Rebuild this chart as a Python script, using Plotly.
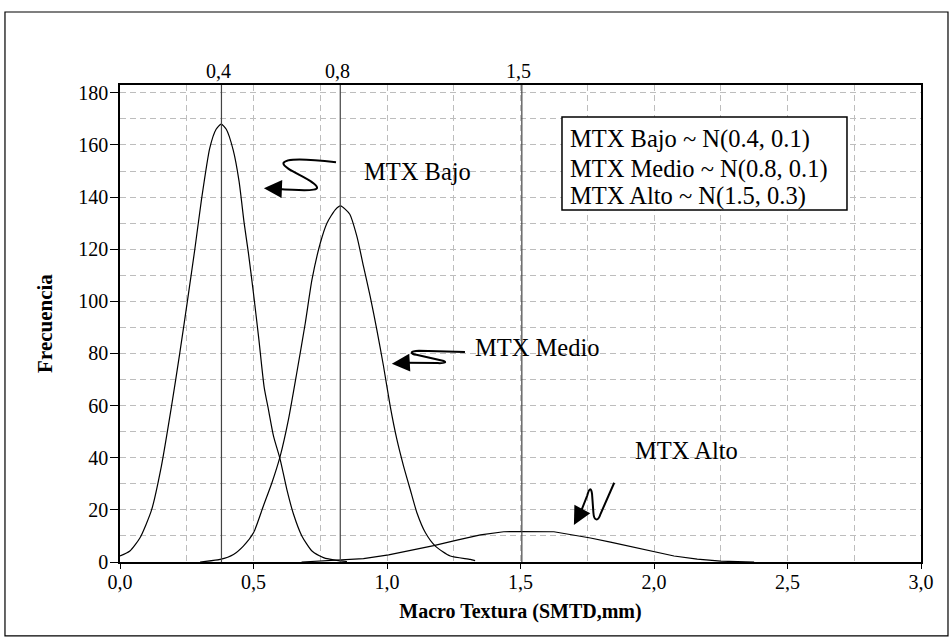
import plotly.graph_objects as go

# ---- data ----
bajo_x = [0.0, 0.037, 0.075, 0.118, 0.155, 0.193, 0.224, 0.255, 0.28, 0.305, 0.336, 0.36, 0.379,
          0.398, 0.424, 0.446, 0.465, 0.481, 0.5, 0.52, 0.54, 0.556, 0.575, 0.6, 0.625, 0.65,
          0.681, 0.719, 0.762, 0.812, 0.85]
bajo_y = [2.3, 4.2, 9.3, 19.9, 36.8, 59.8, 80.2, 101.9, 119.8, 138.9, 158.7, 166.0, 168.0,
          166.0, 158.0, 146.0, 130.0, 118.5, 103.0, 85.5, 67.0, 58.5, 48.3, 39.3, 27.8, 18.3,
          10.0, 4.2, 1.7, 0.6, 0.2]

medio_x = [0.30, 0.375, 0.425, 0.462, 0.5, 0.537, 0.569, 0.6, 0.631, 0.662, 0.694, 0.719, 0.75,
           0.775, 0.806, 0.826, 0.86, 0.887, 0.912, 0.937, 0.962, 0.987, 1.012, 1.037, 1.062,
           1.087, 1.112, 1.144, 1.181, 1.237, 1.312, 1.33]
medio_y = [0.0, 1.0, 2.9, 6.1, 11.2, 21.5, 30.4, 40.6, 54.7, 72.5, 91.7, 108.3, 122.3, 130.0,
           135.1, 136.6, 133.5, 125.0, 113.4, 101.9, 89.1, 75.1, 59.8, 47.0, 36.8, 27.8, 18.9,
           11.2, 6.1, 2.3, 1.0, 0.5]

alto_x = [0.68, 0.82, 0.912, 1.006, 1.087, 1.175, 1.262, 1.35, 1.437, 1.5, 1.625, 1.675, 1.762,
          1.837, 1.925, 2.0, 2.075, 2.162, 2.25, 2.375]
alto_y = [0.0, 0.8, 1.3, 2.7, 4.4, 6.3, 8.4, 10.4, 11.6, 11.7, 11.6, 10.8, 9.2, 7.6, 5.7, 4.0,
          2.3, 1.1, 0.3, 0.0]

peak_lines_x = [0.38, 0.825, 1.505]
peak_labels = ["0,4", "0,8", "1,5"]

legend_lines = ["MTX Bajo ~ N(0.4, 0.1)", "MTX Medio ~ N(0.8, 0.1)", "MTX Alto ~ N(1.5, 0.3)"]
legend_line_y = [0.8868, 0.8245, 0.7673]
curve_labels = ["MTX Bajo", "MTX Medio", "MTX Alto"]
curve_label_pos = [(1.114, 149.7), (1.564, 82.3), (2.122, 42.9)]

FONT = "Liberation Serif, Times New Roman, serif"

fig = go.Figure()
for xs, ys, shp in [(bajo_x, bajo_y, "spline"), (medio_x, medio_y, "spline"), (alto_x, alto_y, "linear")]:
    fig.add_trace(go.Scatter(x=xs, y=ys, mode="lines",
                             line=dict(color="black", width=1.2, shape=shp, smoothing=0.6),
                             showlegend=False, hoverinfo="skip"))

shapes = []
for xv in peak_lines_x:
    shapes.append(dict(type="line", xref="x", yref="paper", x0=xv, x1=xv, y0=0, y1=1,
                       line=dict(color="#444444", width=1.2), layer="above"))

# curly arrow strokes (decorations)
arrow_paths = [
    "M 0.809,153.4 C 0.70,154.6 0.62,155.0 0.612,153.0 C 0.61,150.5 0.735,146.5 0.738,143.6 C 0.739,142.2 0.66,142.6 0.585,143.2",
    "M 1.292,80.6 L 1.12,81.0 C 1.085,80.9 1.085,79.9 1.11,79.5 L 1.205,77.3 C 1.228,76.7 1.218,76.2 1.19,76.3 L 1.065,76.4",
    "M 1.851,30.4 L 1.80,18.5 C 1.79,15.3 1.775,15.8 1.773,19.0 L 1.768,26.0 C 1.765,28.8 1.757,28.3 1.75,25.5 L 1.727,19.5",
]
for p in arrow_paths:
    shapes.append(dict(type="path", xref="x", yref="y", path=p,
                       line=dict(color="black", width=2)))

# outer frame
shapes.append(dict(type="rect", xref="paper", yref="paper", x0=-0.1436, x1=1.0337, y0=-0.155, y1=1.153,
                   line=dict(color="black", width=1.2), fillcolor="rgba(0,0,0,0)"))
# legend box
shapes.append(dict(type="rect", xref="paper", yref="paper", x0=0.5518, x1=0.9076, y0=0.7379, y1=0.9329,
                   line=dict(color="black", width=1.5), fillcolor="white", layer="above"))

annotations = []
for xv, lab in zip(peak_lines_x, peak_labels):
    annotations.append(dict(x=xv, y=1, xref="x", yref="paper", yanchor="bottom", text=lab,
                            showarrow=False, yshift=1, xshift=-3,
                            font=dict(family=FONT, size=20, color="black")))

for lab, (lx, ly) in zip(curve_labels, curve_label_pos):
    annotations.append(dict(x=lx, y=ly, xref="x", yref="y", text=lab, showarrow=False,
                            font=dict(family=FONT, size=24.5, color="black")))

# arrow heads
heads = [((0.539, 143.4), (0.59, 143.2)), ((1.018, 76.1), (1.07, 76.4)), ((1.700, 14.2), (1.728, 19.6))]
for (tx, ty), (bx, by) in heads:
    annotations.append(dict(x=tx, y=ty, ax=bx, ay=by, xref="x", yref="y", axref="x", ayref="y",
                            text="", showarrow=True, arrowhead=2, arrowsize=1.8, arrowwidth=2,
                            arrowcolor="black", standoff=0, startstandoff=0))

for txt, ly in zip(legend_lines, legend_line_y):
    annotations.append(dict(x=0.5593, y=ly, xref="paper", yref="paper", xanchor="left", yanchor="middle",
                            text=txt, showarrow=False,
                            font=dict(family=FONT, size=24.5, color="black")))

grid_col = "#bdbdbd"
fig.update_layout(
    width=951, height=643,
    margin=dict(l=120, r=30, t=85, b=81),
    paper_bgcolor="white", plot_bgcolor="white",
    separators=",.",
    font=dict(family=FONT, size=20, color="black"),
    shapes=shapes, annotations=annotations,
    xaxis=dict(range=[0, 3.0], dtick=0.5, tick0=0, tickformat=".1f",
               showgrid=True, gridcolor=grid_col, griddash="6px,4px", gridwidth=1,
               minor=dict(dtick=0.25, showgrid=True, gridcolor=grid_col, griddash="6px,4px"),
               showline=True, linecolor="black", linewidth=1.5, mirror=True,
               ticks="outside", ticklen=5, tickcolor="black", zeroline=False,
               ticklabelstandoff=-4,
               title=dict(text="<b>Macro Textura (SMTD,mm)</b>", font=dict(family=FONT, size=20), standoff=12),
               tickfont=dict(family=FONT, size=20)),
    yaxis=dict(range=[0, 183], dtick=20, tick0=0,
               showgrid=True, gridcolor=grid_col, griddash="6px,4px", gridwidth=1,
               minor=dict(dtick=10, showgrid=True, gridcolor=grid_col, griddash="6px,4px"),
               showline=True, linecolor="black", linewidth=1.5, mirror=True,
               ticks="outside", ticklen=8, tickcolor="black", zeroline=False,
               ticklabelstandoff=-2,
               title=dict(text="<b>Frecuencia</b>", font=dict(family=FONT, size=21), standoff=20),
               tickfont=dict(family=FONT, size=20)),
)

fig.write_html("out.html", config={"displayModeBar": False},
               post_script="document.body.style.margin='0';document.body.style.overflow='hidden';")
